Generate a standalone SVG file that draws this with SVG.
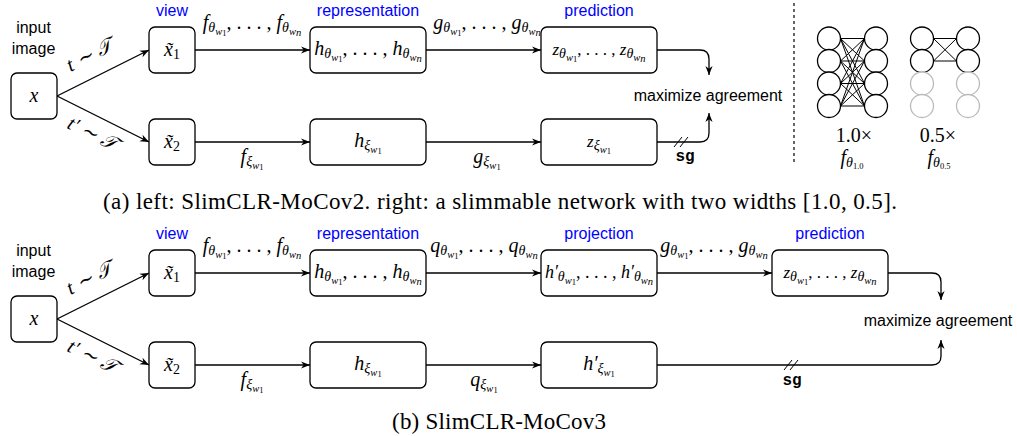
<svg xmlns="http://www.w3.org/2000/svg" width="1017" height="436" viewBox="0 0 1017 436">
<style>
.box{fill:#fff;stroke:#000;stroke-width:1.3}
.ln{fill:none;stroke:#000;stroke-width:1.3}
.thin{fill:none;stroke:#000;stroke-width:1}
.sans{font-family:"Liberation Sans",Arial,sans-serif;font-size:16px;fill:#000}
.blue{font-family:"Liberation Sans",Arial,sans-serif;font-size:16px;fill:#0000ff}
.m{font-family:"Liberation Serif","Times New Roman",serif;font-style:italic;font-size:20px;fill:#000}
.rm{font-family:"Liberation Serif","Times New Roman",serif;font-style:normal;font-size:20px;fill:#000}
.s1{font-size:14px}
.s2{font-size:10.5px}
.s3{font-size:8.5px;font-style:normal}
.up{font-style:normal}
.cap{font-family:"Liberation Serif","Times New Roman",serif;font-size:23px;fill:#000}
.tt{font-family:"Liberation Mono","Courier New",monospace;font-size:16px;font-weight:bold;fill:#000}
.circ{fill:#fff;stroke:#000;stroke-width:1.3}
.gcirc{fill:#fff;stroke:#bbb;stroke-width:1.3}
</style>
<defs>
<marker id="ah" viewBox="0 0 10 10" refX="10" refY="5" markerWidth="9" markerHeight="9" markerUnits="userSpaceOnUse" orient="auto">
<path d="M0,1 L10,5 L0,9 L3,5 z" fill="#000"/>
</marker>
</defs>

<!-- ================= (a) ================= -->
<g id="a-labels">
<text class="sans" x="33.5" y="33" text-anchor="middle">input</text>
<text class="sans" x="33.5" y="54" text-anchor="middle">image</text>
<text class="blue" x="172" y="16" text-anchor="middle">view</text>
<text class="blue" x="368" y="16" text-anchor="middle">representation</text>
<text class="blue" x="599" y="16" text-anchor="middle">prediction</text>
</g>

<g id="a-connectors">
<path class="ln" d="M57,96 L149,50" marker-end="url(#ah)"/>
<path class="ln" d="M57,96 L149,142" marker-end="url(#ah)"/>
<path class="ln" d="M195,50 H310" marker-end="url(#ah)"/>
<path class="ln" d="M195,142 H310" marker-end="url(#ah)"/>
<path class="ln" d="M426,50 H541" marker-end="url(#ah)"/>
<path class="ln" d="M426,142 H541" marker-end="url(#ah)"/>
<path class="ln" d="M657,50 H700 Q709,50 709,59 V75" marker-end="url(#ah)"/>
<path class="ln" d="M657,142 H700 Q709,142 709,133 V113" marker-end="url(#ah)"/>
<path class="thin" d="M674,147 L682,137 M680,147 L688,137"/>
<g transform="translate(89,56) rotate(-26.6)"><text class="m" x="0" y="6" text-anchor="middle">t ∼ 𝒯</text></g>
<g transform="translate(92,134) rotate(26.6)"><text class="m" x="0" y="6" text-anchor="middle">t′ ∼ 𝒯</text></g>
<text class="m" x="252" y="29" text-anchor="middle">f<tspan class="s1" dy="3">θ</tspan><tspan class="s2" dy="2.5">w</tspan><tspan class="s3" dy="1.5">1</tspan><tspan class="up" dy="-7">, . . . , </tspan>f<tspan class="s1" dy="3">θ</tspan><tspan class="s2" dy="2.5">w</tspan><tspan class="s2" dy="1.5">n</tspan></text>
<text class="m" x="252" y="163" text-anchor="middle">f<tspan class="s1" dy="3">ξ</tspan><tspan class="s2" dy="2.5">w</tspan><tspan class="s3" dy="1.5">1</tspan></text>
<text class="m" x="487" y="29" text-anchor="middle">g<tspan class="s1" dy="3">θ</tspan><tspan class="s2" dy="2.5">w</tspan><tspan class="s3" dy="1.5">1</tspan><tspan class="up" dy="-7">, . . . , </tspan>g<tspan class="s1" dy="3">θ</tspan><tspan class="s2" dy="2.5">w</tspan><tspan class="s2" dy="1.5">n</tspan></text>
<text class="m" x="487" y="163" text-anchor="middle">g<tspan class="s1" dy="3">ξ</tspan><tspan class="s2" dy="2.5">w</tspan><tspan class="s3" dy="1.5">1</tspan></text>
<text class="tt" x="685" y="161" text-anchor="middle">sg</text>
<text class="sans" x="708" y="101" text-anchor="middle">maximize agreement</text>
</g>

<g id="a-x"><rect class="box" x="11" y="73" width="46" height="46" rx="6"/><text class="m" x="34" y="102" text-anchor="middle">x</text></g>
<g id="a-x1"><rect class="box" x="149" y="27" width="46" height="46" rx="6"/><text class="m" x="172" y="56" text-anchor="middle">x̃<tspan class="s1 up" dy="3">1</tspan></text></g>
<g id="a-x2"><rect class="box" x="149" y="119" width="46" height="46" rx="6"/><text class="m" x="172" y="148" text-anchor="middle">x̃<tspan class="s1 up" dy="3">2</tspan></text></g>
<g id="a-h"><rect class="box" x="310" y="27" width="116" height="46" rx="6"/><text class="m" x="368" y="55" text-anchor="middle">h<tspan class="s1" dy="3">θ</tspan><tspan class="s2" dy="2.5">w</tspan><tspan class="s3" dy="1.5">1</tspan><tspan class="up" dy="-7">, . . . , </tspan>h<tspan class="s1" dy="3">θ</tspan><tspan class="s2" dy="2.5">w</tspan><tspan class="s2" dy="1.5">n</tspan></text></g>
<g id="a-hxi"><rect class="box" x="310" y="119" width="116" height="46" rx="6"/><text class="m" x="368" y="147" text-anchor="middle">h<tspan class="s1" dy="3">ξ</tspan><tspan class="s2" dy="2.5">w</tspan><tspan class="s3" dy="1.5">1</tspan></text></g>
<g id="a-z"><rect class="box" x="541" y="27" width="116" height="46" rx="6"/><text class="m" x="599" y="55" text-anchor="middle" style="font-size:17px">z<tspan class="s1" dy="3">θ</tspan><tspan class="s2" dy="2.5">w</tspan><tspan class="s3" dy="1.5">1</tspan><tspan class="up" dy="-7">, . . . , </tspan>z<tspan class="s1" dy="3">θ</tspan><tspan class="s2" dy="2.5">w</tspan><tspan class="s2" dy="1.5">n</tspan></text></g>
<g id="a-zxi"><rect class="box" x="541" y="119" width="116" height="46" rx="6"/><text class="m" x="599" y="147" text-anchor="middle" style="font-size:17px">z<tspan class="s1" dy="3">ξ</tspan><tspan class="s2" dy="2.5">w</tspan><tspan class="s3" dy="1.5">1</tspan></text></g>

<!-- separator -->
<line x1="794" y1="3" x2="794" y2="165" stroke="#000" stroke-width="1.2" stroke-dasharray="3,3"/>

<g id="net-10">
<g class="thin">
<path d="M840.5,38.5 L864.5,38.5 M840.5,38.5 L864.5,61 M840.5,38.5 L864.5,83.5 M840.5,38.5 L864.5,106"/>
<path d="M840.5,61 L864.5,38.5 M840.5,61 L864.5,61 M840.5,61 L864.5,83.5 M840.5,61 L864.5,106"/>
<path d="M840.5,83.5 L864.5,38.5 M840.5,83.5 L864.5,61 M840.5,83.5 L864.5,83.5 M840.5,83.5 L864.5,106"/>
<path d="M840.5,106 L864.5,38.5 M840.5,106 L864.5,61 M840.5,106 L864.5,83.5 M840.5,106 L864.5,106"/>
</g>
<circle class="circ" cx="829" cy="38.5" r="11.5"/><circle class="circ" cx="829" cy="61" r="11.5"/><circle class="circ" cx="829" cy="83.5" r="11.5"/><circle class="circ" cx="829" cy="106" r="11.5"/>
<circle class="circ" cx="876" cy="38.5" r="11.5"/><circle class="circ" cx="876" cy="61" r="11.5"/><circle class="circ" cx="876" cy="83.5" r="11.5"/><circle class="circ" cx="876" cy="106" r="11.5"/>
<text class="rm" x="854" y="142" text-anchor="middle">1.0×</text>
<text class="m" x="852" y="164" text-anchor="middle">f<tspan class="s1" dy="3">θ</tspan><tspan class="s3" dy="2">1.0</tspan></text>
</g>
<g id="net-05">
<path class="thin" d="M933.5,38.5 L956.5,38.5 M933.5,38.5 L956.5,61 M933.5,61 L956.5,38.5 M933.5,61 L956.5,61"/>
<circle class="circ" cx="922" cy="38.5" r="11.5"/><circle class="circ" cx="922" cy="61" r="11.5"/>
<circle class="gcirc" cx="922" cy="83.5" r="11.5"/><circle class="gcirc" cx="922" cy="106" r="11.5"/>
<circle class="circ" cx="968" cy="38.5" r="11.5"/><circle class="circ" cx="968" cy="61" r="11.5"/>
<circle class="gcirc" cx="968" cy="83.5" r="11.5"/><circle class="gcirc" cx="968" cy="106" r="11.5"/>
<text class="rm" x="938" y="142" text-anchor="middle">0.5×</text>
<text class="m" x="939" y="164" text-anchor="middle">f<tspan class="s1" dy="3">θ</tspan><tspan class="s3" dy="2">0.5</tspan></text>
</g>

<text class="cap" x="103" y="209" textLength="794" lengthAdjust="spacing">(a) left: SlimCLR-MoCov2. right: a slimmable network with two widths [1.0, 0.5].</text>

<!-- ================= (b) ================= -->
<g id="b-labels">
<text class="sans" x="33.5" y="256" text-anchor="middle">input</text>
<text class="sans" x="33.5" y="277" text-anchor="middle">image</text>
<text class="blue" x="172" y="239" text-anchor="middle">view</text>
<text class="blue" x="368" y="239" text-anchor="middle">representation</text>
<text class="blue" x="599" y="239" text-anchor="middle">projection</text>
<text class="blue" x="830" y="239" text-anchor="middle">prediction</text>
</g>

<g id="b-connectors">
<path class="ln" d="M57,319 L149,273" marker-end="url(#ah)"/>
<path class="ln" d="M57,319 L149,365" marker-end="url(#ah)"/>
<path class="ln" d="M195,273 H310" marker-end="url(#ah)"/>
<path class="ln" d="M195,365 H310" marker-end="url(#ah)"/>
<path class="ln" d="M426,273 H541" marker-end="url(#ah)"/>
<path class="ln" d="M426,365 H541" marker-end="url(#ah)"/>
<path class="ln" d="M657,273 H772" marker-end="url(#ah)"/>
<path class="ln" d="M888,273 H932 Q941,273 941,282 V300" marker-end="url(#ah)"/>
<path class="ln" d="M657,365 H932 Q941,365 941,356 V340" marker-end="url(#ah)"/>
<path class="thin" d="M784,370 L792,360 M790,370 L798,360"/>
<g transform="translate(89,279) rotate(-26.6)"><text class="m" x="0" y="6" text-anchor="middle">t ∼ 𝒯</text></g>
<g transform="translate(92,357) rotate(26.6)"><text class="m" x="0" y="6" text-anchor="middle">t′ ∼ 𝒯</text></g>
<text class="m" x="252" y="252" text-anchor="middle">f<tspan class="s1" dy="3">θ</tspan><tspan class="s2" dy="2.5">w</tspan><tspan class="s3" dy="1.5">1</tspan><tspan class="up" dy="-7">, . . . , </tspan>f<tspan class="s1" dy="3">θ</tspan><tspan class="s2" dy="2.5">w</tspan><tspan class="s2" dy="1.5">n</tspan></text>
<text class="m" x="252" y="386" text-anchor="middle">f<tspan class="s1" dy="3">ξ</tspan><tspan class="s2" dy="2.5">w</tspan><tspan class="s3" dy="1.5">1</tspan></text>
<text class="m" x="484" y="252" text-anchor="middle">q<tspan class="s1" dy="3">θ</tspan><tspan class="s2" dy="2.5">w</tspan><tspan class="s3" dy="1.5">1</tspan><tspan class="up" dy="-7">, . . . , </tspan>q<tspan class="s1" dy="3">θ</tspan><tspan class="s2" dy="2.5">w</tspan><tspan class="s2" dy="1.5">n</tspan></text>
<text class="m" x="484" y="386" text-anchor="middle">q<tspan class="s1" dy="3">ξ</tspan><tspan class="s2" dy="2.5">w</tspan><tspan class="s3" dy="1.5">1</tspan></text>
<text class="m" x="714" y="252" text-anchor="middle">g<tspan class="s1" dy="3">θ</tspan><tspan class="s2" dy="2.5">w</tspan><tspan class="s3" dy="1.5">1</tspan><tspan class="up" dy="-7">, . . . , </tspan>g<tspan class="s1" dy="3">θ</tspan><tspan class="s2" dy="2.5">w</tspan><tspan class="s2" dy="1.5">n</tspan></text>
<text class="tt" x="792" y="385" text-anchor="middle">sg</text>
<text class="sans" x="938" y="326" text-anchor="middle">maximize agreement</text>
</g>

<g id="b-x"><rect class="box" x="11" y="296" width="46" height="46" rx="6"/><text class="m" x="34" y="325" text-anchor="middle">x</text></g>
<g id="b-x1"><rect class="box" x="149" y="250" width="46" height="46" rx="6"/><text class="m" x="172" y="279" text-anchor="middle">x̃<tspan class="s1 up" dy="3">1</tspan></text></g>
<g id="b-x2"><rect class="box" x="149" y="342" width="46" height="46" rx="6"/><text class="m" x="172" y="371" text-anchor="middle">x̃<tspan class="s1 up" dy="3">2</tspan></text></g>
<g id="b-h"><rect class="box" x="310" y="250" width="116" height="46" rx="6"/><text class="m" x="368" y="278" text-anchor="middle">h<tspan class="s1" dy="3">θ</tspan><tspan class="s2" dy="2.5">w</tspan><tspan class="s3" dy="1.5">1</tspan><tspan class="up" dy="-7">, . . . , </tspan>h<tspan class="s1" dy="3">θ</tspan><tspan class="s2" dy="2.5">w</tspan><tspan class="s2" dy="1.5">n</tspan></text></g>
<g id="b-hxi"><rect class="box" x="310" y="342" width="116" height="46" rx="6"/><text class="m" x="368" y="370" text-anchor="middle">h<tspan class="s1" dy="3">ξ</tspan><tspan class="s2" dy="2.5">w</tspan><tspan class="s3" dy="1.5">1</tspan></text></g>
<g id="b-hp"><rect class="box" x="541" y="250" width="116" height="46" rx="6"/><text class="m" x="599" y="278" text-anchor="middle" style="font-size:18px">h′<tspan class="s1" dy="3">θ</tspan><tspan class="s2" dy="2.5">w</tspan><tspan class="s3" dy="1.5">1</tspan><tspan class="up" dy="-7">, . . . , </tspan>h′<tspan class="s1" dy="3">θ</tspan><tspan class="s2" dy="2.5">w</tspan><tspan class="s2" dy="1.5">n</tspan></text></g>
<g id="b-hpxi"><rect class="box" x="541" y="342" width="116" height="46" rx="6"/><text class="m" x="599" y="370" text-anchor="middle">h′<tspan class="s1" dy="3">ξ</tspan><tspan class="s2" dy="2.5">w</tspan><tspan class="s3" dy="1.5">1</tspan></text></g>
<g id="b-z"><rect class="box" x="772" y="250" width="116" height="46" rx="6"/><text class="m" x="830" y="278" text-anchor="middle" style="font-size:17px">z<tspan class="s1" dy="3">θ</tspan><tspan class="s2" dy="2.5">w</tspan><tspan class="s3" dy="1.5">1</tspan><tspan class="up" dy="-7">, . . . , </tspan>z<tspan class="s1" dy="3">θ</tspan><tspan class="s2" dy="2.5">w</tspan><tspan class="s2" dy="1.5">n</tspan></text></g>

<text class="cap" x="392" y="429" textLength="214" lengthAdjust="spacing">(b) SlimCLR-MoCov3</text>
</svg>
